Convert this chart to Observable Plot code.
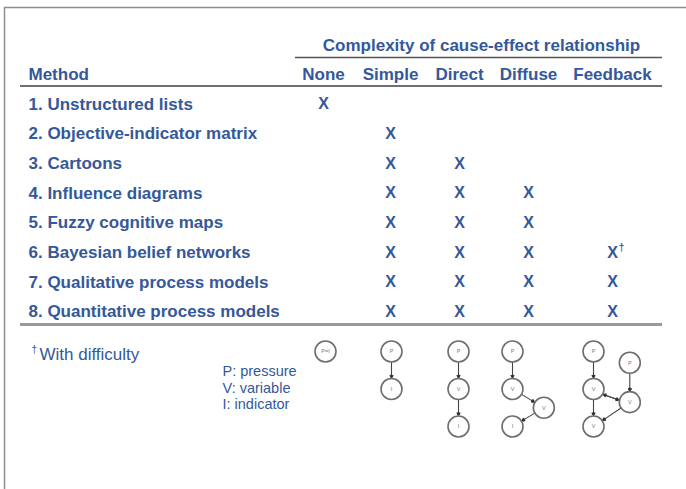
<!DOCTYPE html>
<html><head><meta charset="utf-8">
<script src="https://cdn.jsdelivr.net/npm/d3@7"></script>
<script src="https://cdn.jsdelivr.net/npm/@observablehq/plot@0.6"></script>
<style>html,body{margin:0;padding:0;background:#fff}</style>
</head><body><div id="chart"></div>
<script>
// ---------- data ----------
const title = "Complexity of cause-effect relationship";
const methodHeader = "Method";
const columns = ["None", "Simple", "Direct", "Diffuse", "Feedback"];
const methods = [
  "1. Unstructured lists",
  "2. Objective-indicator matrix",
  "3. Cartoons",
  "4. Influence diagrams",
  "5. Fuzzy cognitive maps",
  "6. Bayesian belief networks",
  "7. Qualitative process models",
  "8. Quantitative process models"
];
// 1 = applicable (X), 2 = applicable with difficulty (X†), 0 = blank
const applicability = [
  [1, 0, 0, 0, 0],
  [0, 1, 0, 0, 0],
  [0, 1, 1, 0, 0],
  [0, 1, 1, 1, 0],
  [0, 1, 1, 1, 0],
  [0, 1, 1, 1, 2],
  [0, 1, 1, 1, 1],
  [0, 1, 1, 1, 1]
];
const footnote = "With difficulty";
const legendLines = ["P: pressure", "V: variable", "I: indicator"];
// diagram nodes: column, id, label, grid column (gx) and grid level (gy)
const diagramNodes = [
  {col: "None", id: "a", label: "P=I", gx: 0, gy: 0},
  {col: "Simple", id: "p", label: "P", gx: 0, gy: 0},
  {col: "Simple", id: "i", label: "I", gx: 0, gy: 1},
  {col: "Direct", id: "p", label: "P", gx: 0, gy: 0},
  {col: "Direct", id: "v", label: "V", gx: 0, gy: 1},
  {col: "Direct", id: "i", label: "I", gx: 0, gy: 2},
  {col: "Diffuse", id: "p", label: "P", gx: 0, gy: 0},
  {col: "Diffuse", id: "v", label: "V", gx: 0, gy: 1},
  {col: "Diffuse", id: "v2", label: "V", gx: 0.95, gy: 1.5},
  {col: "Diffuse", id: "i", label: "I", gx: 0, gy: 2},
  {col: "Feedback", id: "p", label: "P", gx: 0, gy: 0},
  {col: "Feedback", id: "v", label: "V", gx: 0, gy: 1},
  {col: "Feedback", id: "p2", label: "P", gx: 1.1, gy: 0.3},
  {col: "Feedback", id: "v2", label: "V", gx: 1.1, gy: 1.35},
  {col: "Feedback", id: "v3", label: "V", gx: 0, gy: 2}
];
const diagramEdges = [
  {col: "Simple", from: "p", to: "i", lane: 0},
  {col: "Direct", from: "p", to: "v", lane: 0},
  {col: "Direct", from: "v", to: "i", lane: 0},
  {col: "Diffuse", from: "p", to: "v", lane: 0},
  {col: "Diffuse", from: "v", to: "v2", lane: 0},
  {col: "Diffuse", from: "v2", to: "i", lane: 0},
  {col: "Feedback", from: "p", to: "v", lane: 0},
  {col: "Feedback", from: "p2", to: "v2", lane: 0},
  {col: "Feedback", from: "v", to: "v2", lane: -1},
  {col: "Feedback", from: "v2", to: "v", lane: -1},
  {col: "Feedback", from: "v", to: "v3", lane: 0},
  {col: "Feedback", from: "v2", to: "v3", lane: 0}
];

// ---------- layout ----------
const W = 686, H = 489;
const blue = "#34589a";
const font = "'Liberation Sans', Arial, Helvetica, sans-serif";
const colX = {None: 323, Simple: 390, Direct: 459, Diffuse: 528, Feedback: 612};
const labelX = 28;
const headerY = 74.5;
const rowY = i => 103.6 + 29.67 * i;
const diagOffset = {None: 2, Simple: 1, Direct: -1, Diffuse: -16, Feedback: -19};
const diagStepX = 33, diagTop = 351, diagStepY = 37.5, nodeR = 10.5;

const cells = [];
applicability.forEach((row, r) => row.forEach((v, c) => {
  if (v > 0) cells.push({method: methods[r], row: r, col: columns[c], v});
}));

const nodes = diagramNodes.map(n => ({
  ...n,
  px: colX[n.col] + diagOffset[n.col] + n.gx * diagStepX,
  py: diagTop + n.gy * diagStepY
}));
const nodeOf = (col, id) => nodes.find(n => n.col === col && n.id === id);
const edges = diagramEdges.map(e => {
  const a = nodeOf(e.col, e.from), b = nodeOf(e.col, e.to);
  const dx = b.px - a.px, dy = b.py - a.py, L = Math.hypot(dx, dy);
  let ox = 0, oy = 0;
  if (e.lane !== 0) {
    const sgn = a.px < b.px ? 1 : -1;
    ox = -dy / L * 1.8 * sgn; oy = dx / L * 1.8 * sgn;
  }
  const ux = dx / L, uy = dy / L;
  return {x1: a.px + ox, y1: a.py + oy, x2: b.px + ox, y2: b.py + oy,
          hx: b.px + ox - ux * (nodeR + 2.5), hy: b.py + oy - uy * (nodeR + 2.5)};
});

const chart = Plot.plot({
  width: W, height: H, margin: 0,
  x: {type: "linear", domain: [0, W], range: [0, W], axis: null},
  y: {type: "linear", domain: [0, H], range: [0, H], axis: null},
  style: {fontFamily: font, background: "#fff", overflow: "visible"},
  marks: [
    // picture frame
    Plot.ruleY([7], {x1: 4, x2: W, stroke: "#8f8f8f", strokeWidth: 1.5}),
    Plot.ruleX([4], {y1: 7, y2: H, stroke: "#8f8f8f", strokeWidth: 1.5}),
    // spanning title
    Plot.text([title], {x: 481, y: 45.5, text: d => d, fontSize: 17, fontWeight: "bold", fill: blue}),
    Plot.ruleY([57], {x1: 295, x2: 662, stroke: "#555", strokeWidth: 1.5}),
    // header row
    Plot.text([methodHeader], {x: labelX, y: headerY, text: d => d, textAnchor: "start", fontSize: 17, fontWeight: "bold", fill: blue}),
    Plot.text(columns, {x: d => colX[d], y: headerY, text: d => d, fontSize: 17, fontWeight: "bold", fill: blue}),
    Plot.ruleY([85.5], {x1: 20, x2: 662, stroke: "#6f6f6f", strokeWidth: 2}),
    // method rows
    Plot.text(methods, {x: labelX, y: (d, i) => rowY(i), text: d => d, textAnchor: "start", fontSize: 17, fontWeight: "bold", fill: blue}),
    // X marks
    Plot.text(cells, {x: d => colX[d.col], y: d => rowY(d.row), text: () => "X", fontSize: 16, fontWeight: "bold", fill: blue}),
    Plot.text(cells.filter(d => d.v === 2), {x: d => colX[d.col], y: d => rowY(d.row), text: () => "†", dx: 9, dy: -5, fontSize: 10, fontWeight: "bold", fill: blue}),
    Plot.ruleY([324], {x1: 20, x2: 662, stroke: "#9a9a9a", strokeWidth: 3}),
    // footnote
    Plot.text(["†"], {x: 31, y: 349, text: d => d, textAnchor: "start", fontSize: 10, fill: blue}),
    Plot.text([footnote], {x: 39, y: 354, text: d => d, textAnchor: "start", fontSize: 17, fill: blue}),
    // legend
    Plot.text(legendLines, {x: 222, y: (d, i) => 371 + 16.5 * i, text: d => d, textAnchor: "start", fontSize: 14.5, fill: blue}),
    // diagrams
    Plot.arrow(edges, {x1: "x1", y1: "y1", x2: "x2", y2: "y2", insetStart: nodeR + 0.5, insetEnd: nodeR + 0.5, headLength: 4, stroke: "#444", strokeWidth: 1.1}),
    Plot.dot(edges, {x: "hx", y: "hy", r: 1.6, fill: "#333", stroke: "none"}),
    Plot.dot(nodes, {x: "px", y: "py", r: nodeR, fill: "#fff", stroke: "#6e6e6e", strokeWidth: 1.6}),
    Plot.text(nodes, {x: "px", y: "py", text: "label", fontSize: 5.5, fill: "#777"})
  ]
});
document.getElementById("chart").appendChild(chart);
</script>
</body></html>
